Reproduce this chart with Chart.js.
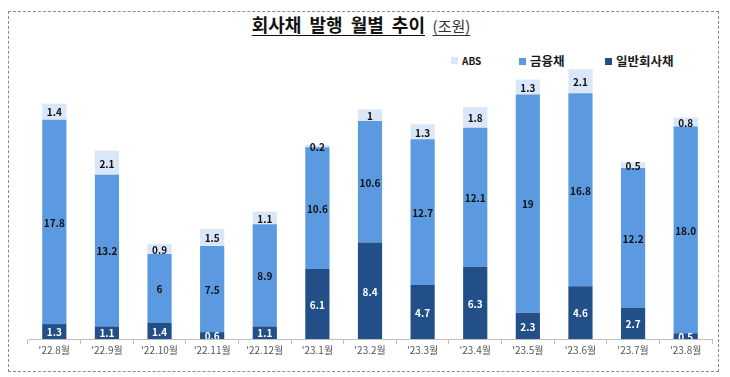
<!DOCTYPE html>
<html>
<head>
<meta charset="utf-8">
<script src="https://cdn.jsdelivr.net/npm/chart.js@4/dist/chart.umd.min.js"></script>
<style>
  body { margin: 0; background: #fff; font-family: "Noto Sans CJK KR", sans-serif; }
  #wrap { position: relative; width: 730px; height: 377px; }
  #frame { position: absolute; left: 8px; top: 11px; width: 711px; height: 361px; border: 1px dashed #8a8a8a; box-sizing: border-box; }
  #title { position: absolute; left: 0; width: 722px; top: 11px; text-align: center; white-space: nowrap; }
  #title span { text-decoration: underline; text-underline-offset: 3px; }
  #title .main { font-size: 18px; font-weight: 700; color: #111; word-spacing: 4px; }
  #title .unit { font-size: 15px; color: #333; margin-left: 4px; }
  .leg { position: absolute; top: 51px; font-weight: 700; color: #1a1a1a; white-space: nowrap; }
  .leg i { display: inline-block; width: 7px; height: 7px; margin-right: 4px; vertical-align: 1px; }
  canvas { position: absolute; left: 0; top: 0; }
</style>
</head>
<body>
<div id="wrap">
  <div id="frame"></div>
  <div id="title"><span class="main">회사채 발행 월별 추이</span> <span class="unit">(조원)</span></div>
  <div class="leg" style="left:451px; font-size:10px; top:53px"><i style="background:#d9e7f9"></i>ABS</div>
  <div class="leg" style="left:519px; font-size:12.5px"><i style="background:#5b9ae0"></i>금융채</div>
  <div class="leg" style="left:605px; font-size:12.5px"><i style="background:#234f88"></i>일반회사채</div>
  <canvas id="myChart" width="730" height="377"></canvas>
</div>
<script>
var months = ["'22.8월", "'22.9월", "'22.10월", "'22.11월", "'22.12월", "'23.1월", "'23.2월", "'23.3월", "'23.4월", "'23.5월", "'23.6월", "'23.7월", "'23.8월"];
var general = [1.3, 1.1, 1.4, 0.6, 1.1, 6.1, 8.4, 4.7, 6.3, 2.3, 4.6, 2.7, 0.5];
var financial = [17.8, 13.2, 6, 7.5, 8.9, 10.6, 10.6, 12.7, 12.1, 19, 16.8, 12.2, 18.0];
var abs = [1.4, 2.1, 0.9, 1.5, 1.1, 0.2, 1, 1.3, 1.8, 1.3, 2.1, 0.5, 0.8];
// label text as printed in the original (18.0 keeps its decimal)
var financialText = ["17.8", "13.2", "6", "7.5", "8.9", "10.6", "10.6", "12.7", "12.1", "19", "16.8", "12.2", "18.0"];

// draws the value in the middle of each stacked piece
var segLabels = {
   id: 'segLabels',
   afterDatasetsDraw: function(chart) {
      var ctx = chart.ctx;
      var area = chart.chartArea;
      ctx.save();
      ctx.beginPath();
      ctx.rect(area.left, area.top - 20, area.right - area.left, area.bottom - area.top + 20);
      ctx.clip();
      ctx.font = 'bold 10px "Noto Sans CJK KR", sans-serif';
      ctx.textAlign = 'center';
      ctx.textBaseline = 'middle';
      chart.data.datasets.forEach(function(ds, i) {
         var meta = chart.getDatasetMeta(i);
         meta.data.forEach(function(bar, j) {
            var txt = ds.texts ? ds.texts[j] : String(ds.data[j]);
            ctx.fillStyle = ds.labelColor;
            ctx.fillText(txt, bar.x, (bar.y + bar.base) / 2 + 1);
         });
      });
      ctx.restore();
   }
};

const ctx = document.getElementById('myChart');
var chart = new Chart(ctx, {
   type: 'bar',
   data: {
      labels: months,
      datasets: [{
         label: '일반회사채',
         data: general,
         backgroundColor: '#234f88',
         labelColor: '#ffffff'
      }, {
         label: '금융채',
         data: financial,
         texts: financialText,
         backgroundColor: '#5b9ae0',
         labelColor: '#111111'
      }, {
         label: 'ABS',
         data: abs,
         backgroundColor: '#d9e7f9',
         labelColor: '#111111'
      }]
   },
   options: {
      responsive: false,
      animation: false,
      layout: { padding: { left: 28, right: 18, top: 52, bottom: 21 } },
      datasets: { bar: { categoryPercentage: 1, barPercentage: 0.46 } },
      plugins: {
         legend: { display: false },
         tooltip: { enabled: false }
      },
      scales: {
         x: {
            stacked: true,
            grid: { display: true, drawOnChartArea: false, drawTicks: true, tickLength: 5, color: '#bfbfbf', offset: true },
            border: { display: true, color: '#bfbfbf' },
            ticks: { color: '#555', font: { family: '"Noto Sans CJK KR", sans-serif', size: 10 }, padding: 0, maxRotation: 0 }
         },
         y: {
            stacked: true,
            display: false,
            min: 0,
            max: 25
         }
      }
   },
   plugins: [segLabels]
});
</script>
</body>
</html>
